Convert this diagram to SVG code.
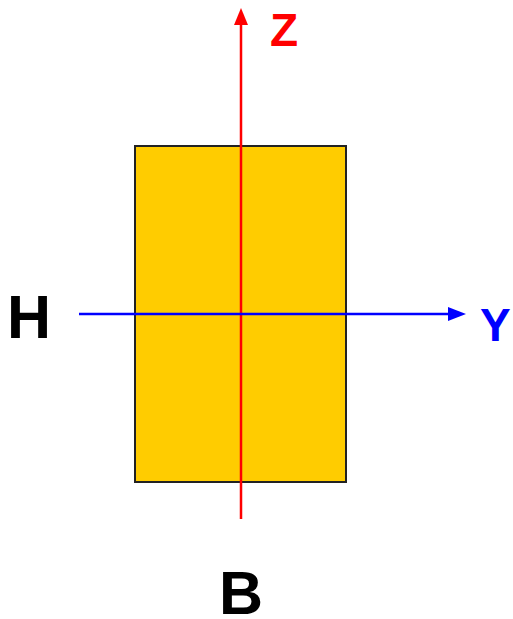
<svg xmlns="http://www.w3.org/2000/svg" width="513" height="619" viewBox="0 0 513 619">
<style>
.lbl{font-family:"Liberation Sans",Arial,sans-serif;font-weight:bold}
</style>
<rect width="513" height="619" fill="#fff"/>
<g id="section">
<rect x="135" y="146" width="211" height="336" fill="#FFCC00" stroke="#222" stroke-width="2"/>
</g>
<g id="connectors">
<line x1="241" y1="519" x2="241" y2="22" stroke="#FF0000" stroke-width="2.5"/>
<polygon points="241,8 234,25 248,25" fill="#FF0000"/>
<line x1="79" y1="314" x2="452" y2="314" stroke="#0000FF" stroke-width="2.5"/>
<polygon points="466,314 448,307 448,321" fill="#0000FF"/>
</g>
<g id="labels">
<text class="lbl" x="270" y="46" font-size="46" fill="#FF0000">Z</text>
<text class="lbl" x="480" y="341" font-size="46" fill="#0000FF">Y</text>
<text class="lbl" x="7" y="338" font-size="61" fill="#000">H</text>
<text class="lbl" x="219" y="614" font-size="61" fill="#000">B</text>
</g>
</svg>
